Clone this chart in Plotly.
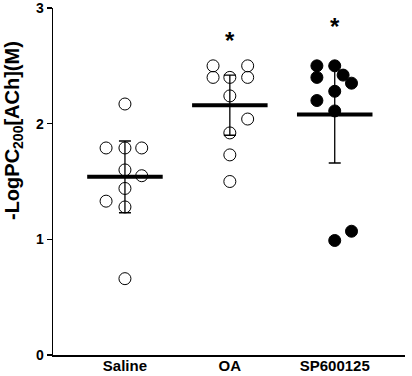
import plotly.graph_objects as go

categories = ["Saline", "OA", "SP600125"]

# individual data points: group index, horizontal jitter offset, value
saline_off = [0.0, -0.18, 0.0, 0.16, 0.0, 0.16, 0.0, -0.18, 0.0, 0.0]
saline_val = [2.17, 1.79, 1.79, 1.79, 1.60, 1.55, 1.44, 1.33, 1.28, 0.66]

oa_off = [-0.16, 0.17, -0.16, 0.0, 0.17, 0.0, 0.17, 0.0, 0.0, 0.0]
oa_val = [2.50, 2.50, 2.40, 2.40, 2.40, 2.24, 2.04, 1.92, 1.73, 1.50]

sp_off = [-0.17, 0.0, -0.17, 0.08, 0.16, 0.0, -0.17, 0.0, 0.0, 0.16]
sp_val = [2.50, 2.50, 2.40, 2.42, 2.35, 2.28, 2.20, 2.11, 0.99, 1.07]

means = [1.54, 2.16, 2.08]
sds = [0.31, 0.26, 0.42]
significant = ["", "*", "*"]
star_y = [None, 2.72, 2.84]
y_title = "<b>-LogPC<sub>200</sub>[ACh](M)</b>"

fig = go.Figure()

groups = [(saline_off, saline_val, "circle-open", "black"),
          (oa_off, oa_val, "circle-open", "black"),
          (sp_off, sp_val, "circle", "black")]

# error bars
fig.add_trace(go.Scatter(
    x=list(range(len(categories))), y=means, mode="markers",
    marker=dict(size=1, color="rgba(0,0,0,0)"),
    error_y=dict(type="data", array=sds, visible=True, color="black",
                 thickness=1.3, width=6),
    showlegend=False, hoverinfo="skip"))

# mean lines
for i, m in enumerate(means):
    fig.add_trace(go.Scatter(x=[i - 0.36, i + 0.36], y=[m, m], mode="lines",
                             line=dict(color="black", width=4),
                             showlegend=False, hoverinfo="skip"))

for i, (off, val, sym, col) in enumerate(groups):
    fig.add_trace(go.Scatter(
        x=[i + o for o in off], y=val, mode="markers",
        marker=dict(symbol=sym, size=12, color=col,
                    line=dict(color="black", width=1)),
        showlegend=False, hoverinfo="skip"))

for i, s in enumerate(significant):
    if s:
        fig.add_annotation(x=i, y=star_y[i], text="<b>*</b>", showarrow=False,
                           font=dict(size=24, color="black",
                                     family="Liberation Sans, Arial"),
                           xref="x", yref="y")

# y-axis title as rotated annotation (positioned like the reference)
fig.add_annotation(x=-0.114, y=0.648, xref="paper", yref="paper",
                   text=y_title, textangle=-90, showarrow=False,
                   xanchor="center", yanchor="middle",
                   font=dict(size=20, color="black",
                             family="Liberation Sans, Arial"))

fig.update_layout(
    width=412, height=376,
    margin=dict(l=53, r=7, t=8, b=21),
    plot_bgcolor="white", paper_bgcolor="white",
    hovermode=False,
    font=dict(family="Liberation Sans, Arial", color="black", size=14),
    xaxis=dict(range=[-0.686, 2.67], tickmode="array",
               tickvals=list(range(len(categories))),
               ticktext=["<b>%s</b>" % c for c in categories],
               showline=True, linecolor="black", linewidth=1.5,
               ticks="", showgrid=False, zeroline=False, automargin=False,
               ticklabelstandoff=-4,
               tickfont=dict(size=15)),
    yaxis=dict(range=[0, 3], tickvals=[0, 1, 2, 3],
               ticktext=["<b>0</b>", "<b>1</b>", "<b>2</b>", "<b>3</b>"],
               showline=True, linecolor="black", linewidth=1.5,
               ticks="outside", ticklen=5, tickwidth=1.5, tickcolor="black",
               showgrid=False, zeroline=False, tickfont=dict(size=14),
               automargin=False, ticklabeloverflow="allow"),
)

fig.write_html("out.html",
               config={"displayModeBar": False, "staticPlot": True},
               post_script="document.body.style.margin='0';document.body.style.overflow='hidden';")
